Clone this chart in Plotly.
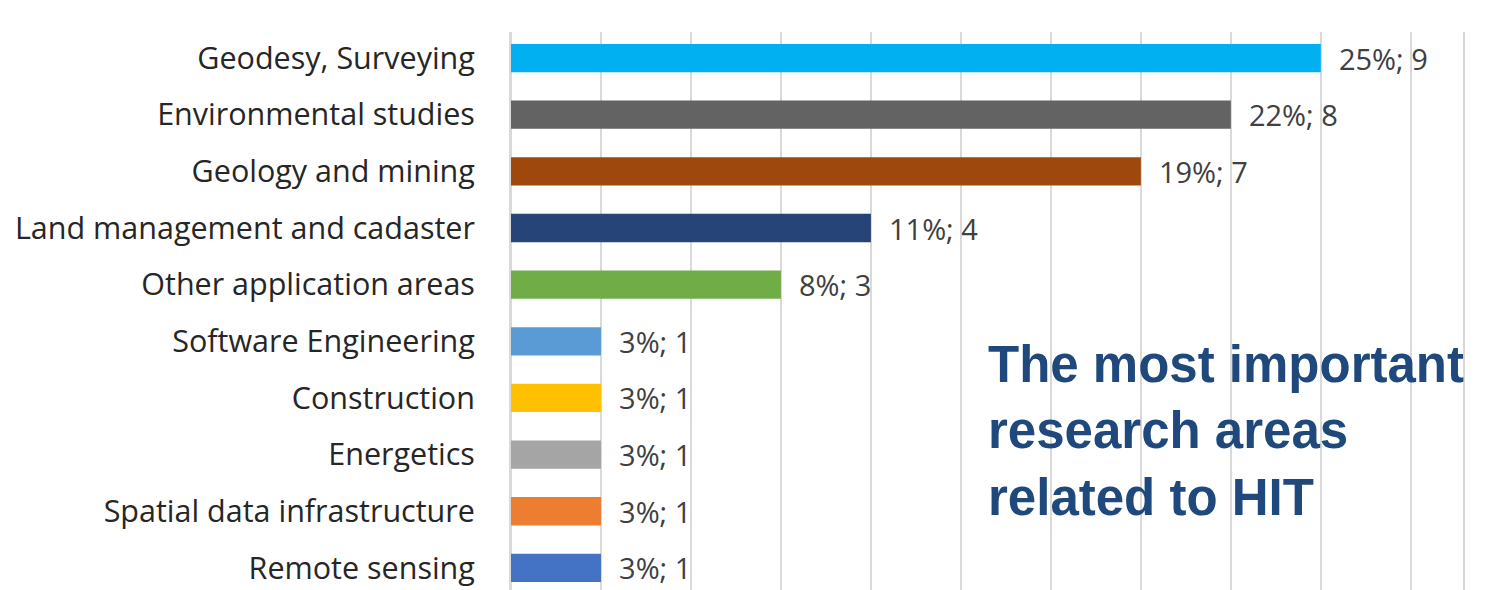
import plotly.graph_objects as go

categories = [
    "Geodesy, Surveying",
    "Environmental studies",
    "Geology and mining",
    "Land management and cadaster",
    "Other application areas",
    "Software Engineering",
    "Construction",
    "Energetics",
    "Spatial data infrastructure",
    "Remote sensing",
]
counts = [9, 8, 7, 4, 3, 1, 1, 1, 1, 1]
percents = ["25%", "22%", "19%", "11%", "8%", "3%", "3%", "3%", "3%", "3%"]
colors = ["#00B0F0", "#636363", "#9E480E", "#264478", "#70AD47",
          "#5B9BD5", "#FFC000", "#A5A5A5", "#ED7D31", "#4472C4"]

labels = [f"  {p}; {c}" for p, c in zip(percents, counts)]

FONT = "Open Sans"
GRID = "#d9d9d9"

fig = go.Figure(go.Bar(
    y=categories,
    x=counts,
    orientation="h",
    marker=dict(color=colors, line=dict(width=0)),
    text=labels,
    textposition="outside",
    constraintext="none",
    textfont=dict(family=FONT, size=29, color="#404040"),
    cliponaxis=False,
    showlegend=False,
))

fig.update_layout(
    width=1493,
    height=582,
    margin=dict(l=503, r=38, t=24, b=0),
    paper_bgcolor="white",
    plot_bgcolor="white",
    bargap=0.5,
    xaxis=dict(
        range=[0, 10.58],
        dtick=1,
        showgrid=True,
        gridcolor=GRID,
        gridwidth=2,
        zeroline=True,
        zerolinecolor=GRID,
        zerolinewidth=2,
        showticklabels=False,
        ticks="",
    ),
    yaxis=dict(
        categoryorder="array",
        categoryarray=categories,
        range=[9.39, -0.46],
        showline=True,
        mirror=True,
        linecolor=GRID,
        linewidth=2,
        ticks="",
        ticklabelstandoff=28,
        tickfont=dict(family=FONT, size=30.5, color="#262626"),
        showgrid=False,
    ),
    annotations=[dict(
        text="The most important<br>research areas<br>related to HIT",
        xref="paper", yref="paper",
        x=0.499, y=0.459,
        xanchor="left", yanchor="top",
        align="left",
        showarrow=False,
        font=dict(family="Liberation Sans", size=51, color="#1F497D", weight="bold"),
    )],
)

fig.write_html("out.html")
